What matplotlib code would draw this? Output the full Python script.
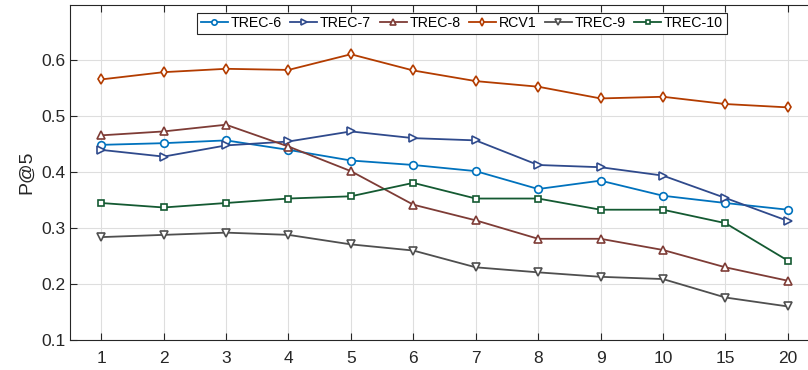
import matplotlib
matplotlib.use("Agg")
import matplotlib.pyplot as plt
import numpy as np

k_labels = ["1", "2", "3", "4", "5", "6", "7", "8", "9", "10", "15", "20"]

trec6 = [0.449, 0.452, 0.457, 0.440, 0.421, 0.413, 0.402, 0.370, 0.385, 0.358, 0.345, 0.333]
trec7 = [0.440, 0.428, 0.448, 0.455, 0.473, 0.461, 0.457, 0.413, 0.409, 0.394, 0.354, 0.313]
trec8 = [0.466, 0.473, 0.485, 0.446, 0.402, 0.342, 0.314, 0.281, 0.281, 0.261, 0.230, 0.206]
rcv1 = [0.566, 0.579, 0.585, 0.583, 0.611, 0.582, 0.563, 0.553, 0.532, 0.535, 0.522, 0.516]
trec9 = [0.284, 0.288, 0.292, 0.288, 0.271, 0.260, 0.230, 0.221, 0.213, 0.209, 0.176, 0.160]
trec10 = [0.345, 0.337, 0.345, 0.353, 0.357, 0.381, 0.353, 0.353, 0.333, 0.333, 0.309, 0.242]

series = [
    ("TREC-6", trec6, "#0072bd", "o"),
    ("TREC-7", trec7, "#2f4a8c", ">"),
    ("TREC-8", trec8, "#7e3c36", "^"),
    ("RCV1", rcv1, "#b33c00", "d"),
    ("TREC-9", trec9, "#4f4f4f", "v"),
    ("TREC-10", trec10, "#145a32", "s"),
]

plt.rcParams['font.family'] = ['Liberation Sans', 'DejaVu Sans']

fig = plt.figure(figsize=(8.08, 3.7), dpi=100)
ax = fig.add_axes([70 / 808, 30 / 370, 749 / 808, 335.5 / 370])

x = np.arange(1, len(k_labels) + 1)
for name, vals, col, mk in series:
    ms = 4.5 if mk == "s" else 5.5
    ax.plot(x, vals, color=col, marker=mk, markersize=ms, markerfacecolor="white",
            markeredgewidth=1.2, linewidth=1.3, label=name)

ax.set_xlim(0.5, 12.5)
ax.set_ylim(0.1, 0.7)
ax.set_xticks(x)
ax.set_xticklabels(k_labels)
ax.set_yticks([0.1, 0.2, 0.3, 0.4, 0.5, 0.6])
ax.tick_params(axis="both", direction="in", length=5, labelsize=12.5, colors="#262626",
               top=True, width=0.8)
ax.tick_params(axis="x", pad=8)
ax.grid(True, color="#dedede", linewidth=0.8)
ax.set_axisbelow(True)
for s in ax.spines.values():
    s.set_color("#262626")
    s.set_linewidth(0.8)
ax.set_ylabel("P@5", fontsize=14, color="#262626", labelpad=4)

leg = ax.legend(loc="upper center", bbox_to_anchor=((462 - 70) / 749, 0.975), ncol=6, fontsize=10.2,
                frameon=True, fancybox=False, edgecolor="#262626", framealpha=1,
                handlelength=1.9, handletextpad=0.2, columnspacing=0.6, borderpad=0.25,
                markerscale=0.7, borderaxespad=0)
leg.get_frame().set_linewidth(0.8)

fig.savefig("out.png", dpi=100)
